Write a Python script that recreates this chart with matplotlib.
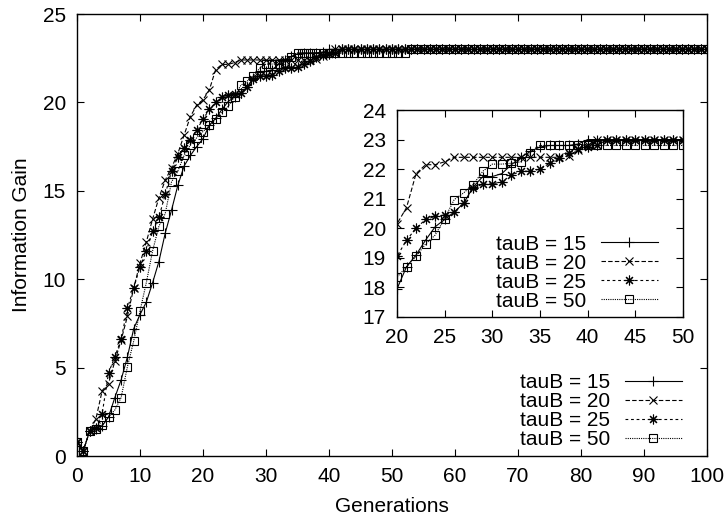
import matplotlib
matplotlib.use("Agg")
import matplotlib.pyplot as plt

plt.rcParams['font.family'] = ['Liberation Sans', 'DejaVu Sans']

generations = list(range(0, 101))

tau15 = [0.8, 0.3, 1.4, 1.55, 1.7, 2.2, 3.3, 4.3, 5.6, 7.2,
         8.0, 8.7, 9.8, 11.0, 12.6, 13.9, 15.3, 16.4, 17.0, 17.5,
         17.95, 18.7, 19.1, 19.6, 20.05, 20.3, 20.55, 20.85, 21.4, 21.75,
         21.75, 21.85, 22.15, 22.4, 22.6, 22.75, 22.8, 22.8, 22.8, 22.85,
         23.0, 23.0, 23.0, 23.0, 23.0, 23.0, 23.0, 23.0, 23.0, 23.0,
         23.0, 23.0, 23.0, 23.0, 23.0, 23.0, 23.0, 23.0, 23.0, 23.0,
         23.0, 23.0, 23.0, 23.0, 23.0, 23.0, 23.0, 23.0, 23.0, 23.0,
         23.0, 23.0, 23.0, 23.0, 23.0, 23.0, 23.0, 23.0, 23.0, 23.0,
         23.0, 23.0, 23.0, 23.0, 23.0, 23.0, 23.0, 23.0, 23.0, 23.0,
         23.0, 23.0, 23.0, 23.0, 23.0, 23.0, 23.0, 23.0, 23.0, 23.0,
         23.0]

tau20 = [0.8, 0.3, 1.4, 2.1, 3.7, 4.1, 5.35, 6.55, 7.9, 9.5,
         10.9, 12.1, 13.4, 14.6, 15.6, 16.3, 17.1, 18.15, 19.2, 19.85,
         20.15, 20.7, 21.85, 22.15, 22.15, 22.25, 22.4, 22.4, 22.4, 22.4,
         22.4, 22.4, 22.4, 22.4, 22.4, 22.4, 22.4, 22.4, 22.45, 22.65,
         22.8, 23.0, 23.0, 23.0, 23.0, 23.0, 23.0, 23.0, 23.0, 23.0,
         23.0, 23.0, 23.0, 23.0, 23.0, 23.0, 23.0, 23.0, 23.0, 23.0,
         23.0, 23.0, 23.0, 23.0, 23.0, 23.0, 23.0, 23.0, 23.0, 23.0,
         23.0, 23.0, 23.0, 23.0, 23.0, 23.0, 23.0, 23.0, 23.0, 23.0,
         23.0, 23.0, 23.0, 23.0, 23.0, 23.0, 23.0, 23.0, 23.0, 23.0,
         23.0, 23.0, 23.0, 23.0, 23.0, 23.0, 23.0, 23.0, 23.0, 23.0,
         23.0]

tau25 = [0.8, 0.3, 1.4, 1.6, 2.4, 4.7, 5.6, 6.6, 8.35, 9.5,
         10.7, 11.6, 12.7, 13.5, 14.8, 16.1, 16.9, 17.4, 17.9, 18.45,
         19.05, 19.6, 20.0, 20.3, 20.4, 20.45, 20.55, 20.85, 21.35, 21.5,
         21.5, 21.57, 21.8, 21.93, 21.93, 22.0, 22.2, 22.36, 22.56, 22.68,
         22.76, 22.8, 23.0, 23.0, 23.0, 23.0, 23.0, 23.0, 23.0, 23.0,
         23.0, 23.0, 23.0, 23.0, 23.0, 23.0, 23.0, 23.0, 23.0, 23.0,
         23.0, 23.0, 23.0, 23.0, 23.0, 23.0, 23.0, 23.0, 23.0, 23.0,
         23.0, 23.0, 23.0, 23.0, 23.0, 23.0, 23.0, 23.0, 23.0, 23.0,
         23.0, 23.0, 23.0, 23.0, 23.0, 23.0, 23.0, 23.0, 23.0, 23.0,
         23.0, 23.0, 23.0, 23.0, 23.0, 23.0, 23.0, 23.0, 23.0, 23.0,
         23.0]

tau50 = [0.8, 0.3, 1.4, 1.55, 1.75, 2.2, 2.6, 3.3, 5.05, 6.5,
         8.2, 9.8, 11.6, 13.0, 13.7, 15.5, 16.1, 17.0, 17.6, 18.0,
         18.35, 18.7, 19.05, 19.47, 19.77, 20.33, 20.97, 21.2, 21.48, 21.93,
         22.17, 22.17, 22.2, 22.25, 22.56, 22.8, 22.8, 22.8, 22.8, 22.8,
         22.8, 22.8, 22.8, 22.8, 22.8, 22.8, 22.8, 22.8, 22.8, 22.8,
         22.8, 22.8, 22.8, 23.0, 23.0, 23.0, 23.0, 23.0, 23.0, 23.0,
         23.0, 23.0, 23.0, 23.0, 23.0, 23.0, 23.0, 23.0, 23.0, 23.0,
         23.0, 23.0, 23.0, 23.0, 23.0, 23.0, 23.0, 23.0, 23.0, 23.0,
         23.0, 23.0, 23.0, 23.0, 23.0, 23.0, 23.0, 23.0, 23.0, 23.0,
         23.0, 23.0, 23.0, 23.0, 23.0, 23.0, 23.0, 23.0, 23.0, 23.0,
         23.0]

series = [("tauB = 15", tau15), ("tauB = 20", tau20),
          ("tauB = 25", tau25), ("tauB = 50", tau50)]

main_xticks = [0, 10, 20, 30, 40, 50, 60, 70, 80, 90, 100]
main_yticks = [0, 5, 10, 15, 20, 25]
inset_xticks = [20, 25, 30, 35, 40, 45, 50]
inset_yticks = [17, 18, 19, 20, 21, 22, 23, 24]

styles = [
    dict(linestyle='-', marker='+', markersize=7, markerfacecolor='none'),
    dict(linestyle=(0, (4, 2)), marker='x', markersize=5.5, markerfacecolor='none'),
    dict(linestyle=(0, (2.5, 2.5)), marker=(8, 2, 0), markersize=7, markerfacecolor='none'),
    dict(linestyle=(0, (1, 1)), marker='s', markersize=6, markerfacecolor='none'),
]

FS = 15

fig = plt.figure(figsize=(7.24, 5.22), dpi=100)
ax = fig.add_axes([77/724, 1 - 456/522, 630/724, 442/522])

for (lab, vals), st in zip(series, styles):
    ax.plot(generations, vals, color='black', linewidth=0.8,
            markeredgewidth=0.8, label=lab, **st)

ax.set_xlim(0, 100)
ax.set_ylim(0, 25)
ax.set_xticks(main_xticks)
ax.set_yticks(main_yticks)
ax.tick_params(direction='in', top=True, right=True, length=5, width=0.8,
               labelsize=FS, pad=8)
for s in ax.spines.values():
    s.set_linewidth(1.0)
ax.set_xlabel("Generations", fontsize=FS, labelpad=8)
ax.set_ylabel("Information Gain", fontsize=FS, labelpad=8)

leg = ax.legend(loc='lower right', bbox_to_anchor=(0.960, 0.015),
                markerfirst=False, frameon=False, fontsize=FS,
                handlelength=2.75, handletextpad=0.7, labelspacing=0.0,
                borderaxespad=0, borderpad=0)

# inset
axi = fig.add_axes([397/724, 1 - 317/522, 286/724, 207/522])
axi.set_facecolor('white')
for (lab, vals), st in zip(series, styles):
    axi.plot(generations, vals, color='black', linewidth=0.8,
             markeredgewidth=0.8, label=lab, **st)
axi.set_xlim(20, 50)
axi.set_ylim(17, 24)
axi.set_xticks(inset_xticks)
axi.set_yticks(inset_yticks)
axi.tick_params(direction='in', top=True, right=True, length=5, width=0.8,
                labelsize=FS, pad=8)
for s in axi.spines.values():
    s.set_linewidth(1.0)
axi.legend(loc='lower right', bbox_to_anchor=(0.913, 0.03),
           markerfirst=False, frameon=False, fontsize=FS,
           handlelength=2.75, handletextpad=0.7, labelspacing=0.0,
           borderaxespad=0, borderpad=0)

fig.savefig("out.png", dpi=100)
